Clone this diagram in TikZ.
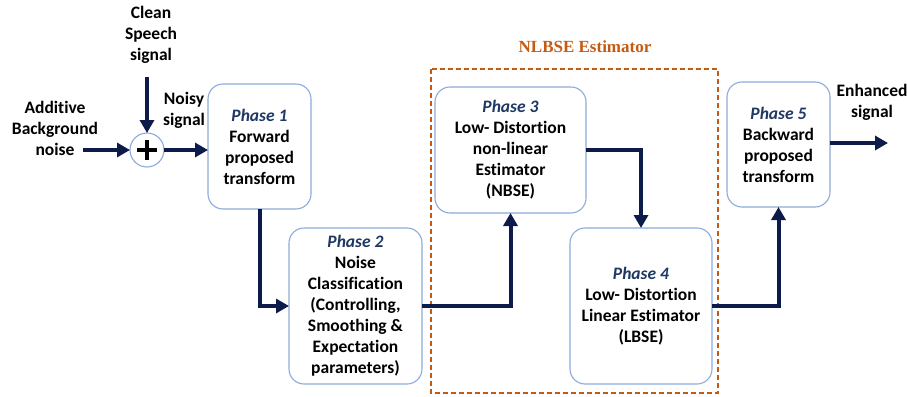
\documentclass[tikz,border=0pt]{standalone}
\usepackage{fontspec}
\setmainfont[Ligatures=NoCommon]{Carlito}
\newfontfamily\titlefont{Liberation Serif}
\usetikzlibrary{arrows.meta}
\definecolor{boxblue}{HTML}{8EAADB}
\definecolor{flow}{HTML}{0D1B4B}
\definecolor{phasecol}{HTML}{1F3864}
\definecolor{nlbse}{HTML}{C55A11}
\tikzset{
  stage/.style={draw=boxblue, line width=1.1pt, rounded corners=15pt, fill=white,
    align=center, inner sep=0pt, outer sep=0pt,
    font=\fontsize{17.5}{21}\selectfont\bfseries, text=black},
  label/.style={align=center, inner sep=0pt, font=\fontsize{17.5}{21}\selectfont\bfseries, text=black},
  flowline/.style={draw=flow, line width=4pt, -{Triangle[length=13pt,width=14pt]}},
  group/.style={draw=nlbse, line width=1.2pt, dash pattern=on 5pt off 3pt},
}
\newcommand{\phasename}[1]{{\color{phasecol}\itshape #1}}
\begin{document}
\begin{tikzpicture}[x=1pt, y=-1pt]
\useasboundingbox (0,0) rectangle (907,396);

% estimator group
\draw[group] (431,69) rectangle (718,393);
\node[font=\fontsize{17}{20}\selectfont\titlefont\bfseries, text=nlbse] (grouptitle) at (585,47) {NLBSE Estimator};

% processing stages
\node[stage, minimum width=103pt, minimum height=125pt] (p1) at (259.5,146.5)
  {\phasename{Phase 1}\\Forward\\proposed\\transform};
\node[stage, minimum width=133pt, minimum height=156pt] (p2) at (355.5,306)
  {\phasename{Phase 2}\\Noise\\Classification\\(Controlling,\\Smoothing \&\\Expectation\\parameters)};
\node[stage, minimum width=151pt, minimum height=126pt] (p3) at (510.5,150)
  {\phasename{Phase 3}\\Low- Distortion\\non-linear\\Estimator\\(NBSE)};
\node[stage, minimum width=142pt, minimum height=156pt] (p4) at (641,306)
  {\phasename{Phase 4}\\Low- Distortion\\Linear Estimator\\(LBSE)};
\node[stage, minimum width=103pt, minimum height=125pt] (p5) at (778.5,144.5)
  {\phasename{Phase 5}\\Backward\\proposed\\transform};

% summing junction
\node[circle, draw=boxblue, line width=1.1pt, minimum size=34pt, inner sep=0pt, outer sep=0pt, fill=white] (sum) at (147,150) {};
\draw[line width=3.4pt] ([xshift=-10pt]sum.center) -- ([xshift=10pt]sum.center);
\draw[line width=3.4pt] ([yshift=-10pt]sum.center) -- ([yshift=10pt]sum.center);

% input / output labels
\node[label] (clean) at (151,35) {Clean\\Speech\\signal};
\node[label] (noise) at (55,128) {Additive\\Background\\noise};
\node[label] (noisy) at (184,110) {Noisy\\signal};
\node[label] (enh) at (872,102) {Enhanced\\signal};

\coordinate (cleanend) at (147,77);
\coordinate (noiseend) at (83,150);
\coordinate (out) at (888,143);

% signal flow
\draw[flowline] (cleanend) -- (sum.north);
\draw[flowline] (noiseend) -- (sum.west);
\draw[flowline] (sum.east) -- (p1.west |- sum.east);
\draw[flowline] (p1.south) |- (p2.west);
\draw[flowline] (p2.east) -| (p3.south);
\draw[flowline] (p3.east |- 0,150) -| (p4.north);
\draw[flowline] (p4.east) -| (p5.south);
\draw[flowline] (p5.east |- out) -- (out);
\end{tikzpicture}
\end{document}
